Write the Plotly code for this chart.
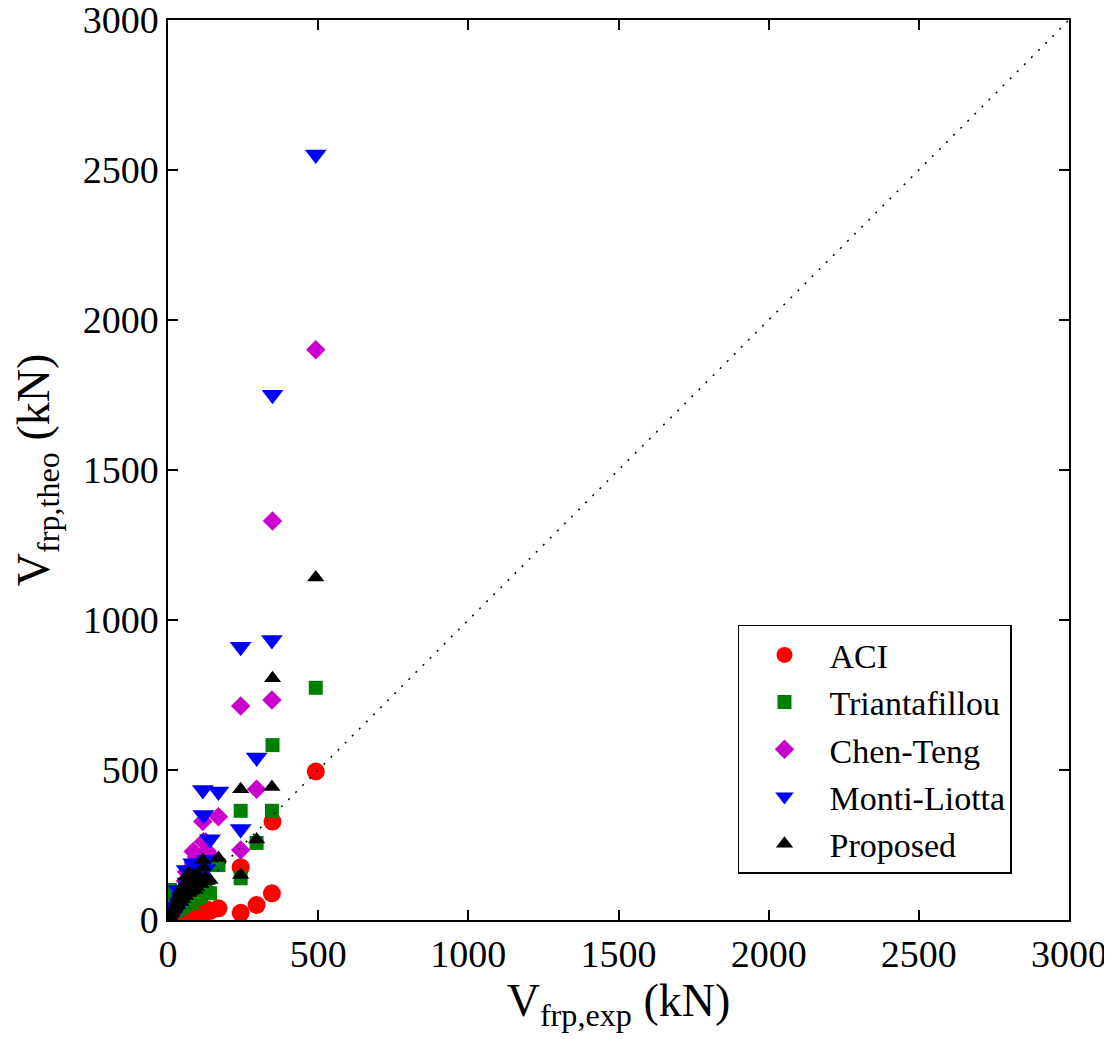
import plotly.graph_objects as go

# Experimental shear contribution (kN) - common to all models
v_exp = [492, 348, 346, 295, 242, 242, 168, 140, 116, 118, 84, 62,
         130, 125, 110, 100, 95, 90, 85, 80, 75, 70, 68, 65, 60, 58, 55, 50,
         48, 45, 42, 40, 35, 32, 30, 25, 22, 20, 15, 12, 10, 6]

aci = [495, 328, 89, 50, 176, 24, 39, 30, 25, 22, 18, 15,
       35, 28, 25, 20, 8, 18, 10, 22, 6, 15, 12, 5, 12, 8, 10, 6,
       9, 5, 7, 4, 6, 3, 5, 4, 3, 2, 3, 2, 2, 1]

triantafillou = [774, 583, 364, 257, 364, 139, 183, 89, 110, 95, 75, 60,
                 90, 100, 80, 130, 70, 85, 110, 60, 95, 75, 55, 100, 65, 80, 50, 70,
                 45, 60, 40, 55, 50, 35, 45, 30, 40, 35, 85, 95, 70, 100]

chen_teng = [1901, 1330, 733, 436, 713, 233, 344, 217, 328, 261, 228, 160,
             230, 260, 200, 180, 210, 150, 190, 170, 130, 160, 140, 120, 110, 130, 100, 90,
             85, 75, 70, 65, 55, 50, 45, 40, 35, 30, 25, 20, 15, 10]

monti_liotta = [2552, 1751, 933, 542, 911, 303, 428, 269, 433, 350, 189, 167,
                200, 170, 190, 160, 150, 180, 140, 130, 165, 120, 110, 125, 100, 95, 90, 80,
                70, 75, 60, 55, 100, 45, 40, 35, 30, 28, 20, 15, 12, 8]

proposed = [1142, 806, 443, 268, 436, 150, 207, 133, 200, 175, 150, 144,
            130, 140, 120, 150, 110, 100, 125, 140, 95, 155, 90, 130, 145, 80, 120, 110,
            70, 100, 60, 90, 75, 50, 60, 45, 40, 35, 30, 25, 20, 12]

series_names = ["ACI", "Triantafillou", "Chen-Teng", "Monti-Liotta", "Proposed"]
series_vals = [aci, triantafillou, chen_teng, monti_liotta, proposed]
colors = ["#ff0000", "#008000", "#cc00cc", "#0000ff", "#000000"]
symbols = ["circle", "square", "diamond", "triangle-down", "triangle-up"]
sizes = [18, 14, 15, 19, 15]

axis_range = [0, 3000]
tick_vals = [0, 500, 1000, 1500, 2000, 2500, 3000]

fig = go.Figure()
for name, vals, c, s, sz in zip(series_names, series_vals, colors, symbols, sizes):
    fig.add_trace(go.Scatter(
        x=v_exp, y=vals, mode="markers", name=name,
        marker=dict(color=c, symbol=s, size=sz, line=dict(width=0)),
    ))

fig.add_trace(go.Scatter(
    x=axis_range, y=axis_range, mode="lines", showlegend=False,
    line=dict(color="black", width=1.5, dash="2px,8px"), hoverinfo="skip",
))

font_family = "Liberation Serif, Times New Roman, serif"
axis_common = dict(
    range=axis_range, tickvals=tick_vals, ticks="inside", ticklen=10,
    tickwidth=1.5, tickcolor="black", showline=True, linecolor="black",
    linewidth=1.5, mirror="ticks", showgrid=False, zeroline=False,
    automargin=False, ticklabeloverflow="allow",
    tickfont=dict(family=font_family, size=38, color="black"),
)

# page body has an 8px margin, so the figure is 8px smaller than the window
fig.update_layout(
    width=1104, height=1031,
    margin=dict(l=160, r=43, t=12, b=119),
    paper_bgcolor="white", plot_bgcolor="white",
    font=dict(family=font_family, color="black"),
    xaxis=dict(**axis_common,
               title=dict(text="V<sub>frp,exp</sub> (kN)", font=dict(size=46), standoff=8)),
    yaxis=dict(**axis_common,
               title=dict(text="V<sub>frp,theo</sub> (kN)", font=dict(size=46), standoff=24)),
    legend=dict(x=0.6326, y=0.328, xanchor="left", yanchor="top",
                bordercolor="black", borderwidth=1.5, bgcolor="white",
                font=dict(family=font_family, size=34, color="black"),
                tracegroupgap=0, itemwidth=80),
    showlegend=True,
)

fig.write_html("out.html")
